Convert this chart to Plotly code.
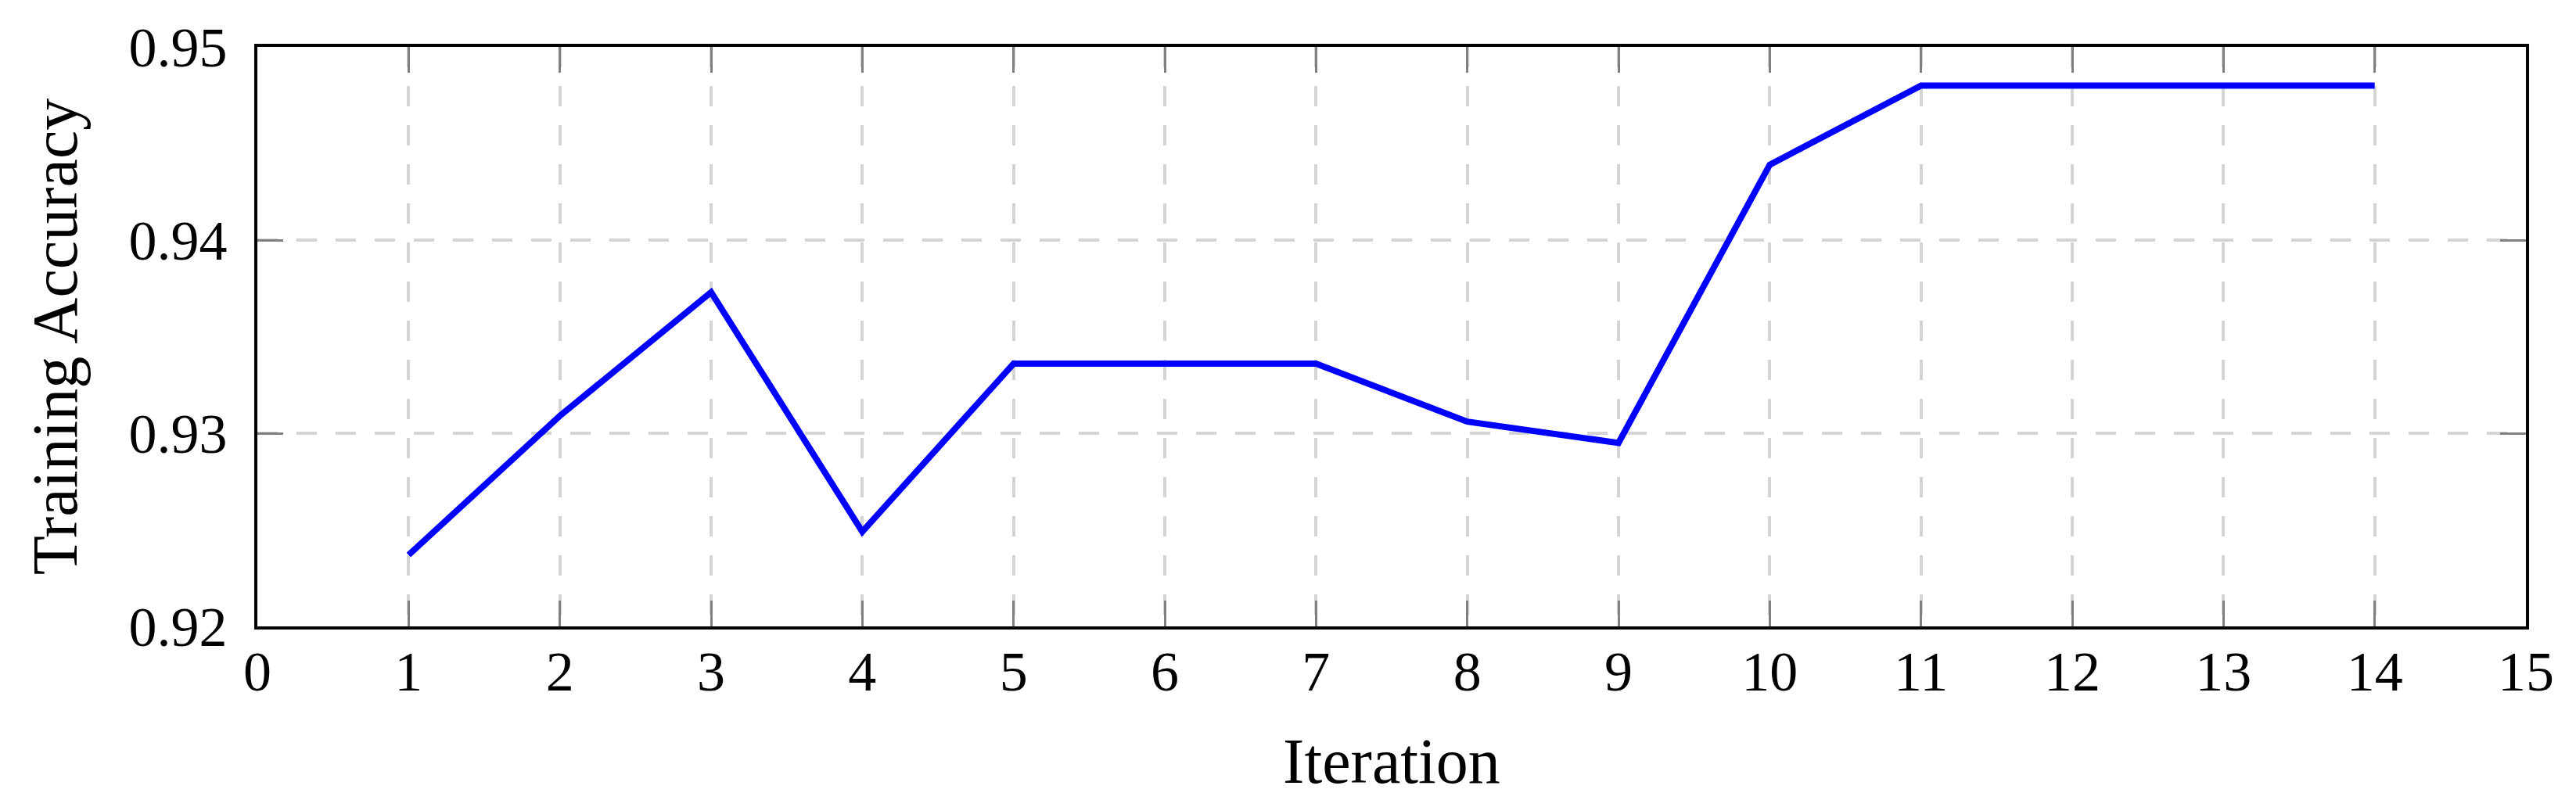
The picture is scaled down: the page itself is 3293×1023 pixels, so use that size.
import plotly.graph_objects as go

iterations = [1, 2, 3, 4, 5, 6, 7, 8, 9, 10, 11, 12, 13, 14]
accuracy = [0.9237, 0.9309, 0.9373, 0.9249, 0.9336, 0.9336, 0.9336,
            0.9306, 0.9295, 0.9439, 0.9480, 0.9480, 0.9480, 0.9480]
x_ticks = list(range(0, 16))
y_ticks = [0.92, 0.93, 0.94, 0.95]
y_tick_labels = ["0.92", "0.93", "0.94", "0.95"]

FONT = "Liberation Serif"

fig = go.Figure()
fig.add_trace(go.Scatter(
    x=iterations, y=accuracy, mode="lines",
    line=dict(color="#0000ff", width=8),
    showlegend=False,
))

axis_common = dict(
    showline=True, linecolor="black", linewidth=4, mirror="ticks",
    ticks="inside", ticklen=33, tickwidth=2.5, tickcolor="#808080",
    showgrid=True, gridcolor="#d4d4d4", gridwidth=4, griddash="26px,24px",
    zeroline=False, automargin=False,
    tickfont=dict(family=FONT, size=72, color="black"),
)

fig.update_xaxes(
    range=[0, 15], tickmode="array", tickvals=x_ticks,
    ticktext=[str(v) for v in x_ticks],
    title=dict(text="Iteration", font=dict(family=FONT, size=82, color="black"), standoff=46),
    ticklabelstandoff=-8,
    **axis_common,
)
fig.update_yaxes(
    range=[0.92, 0.95], tickmode="array", tickvals=y_ticks, ticktext=y_tick_labels,
    title=dict(text="Training Accuracy", font=dict(family=FONT, size=82, color="black"), standoff=40),
    ticklabelstandoff=20,
    **axis_common,
)

fig.update_layout(
    width=3285, height=1015,
    margin=dict(l=321, r=64, t=52, b=222),
    paper_bgcolor="white", plot_bgcolor="white",
    font=dict(family=FONT, color="black"),
)

fig.write_html("out.html")
